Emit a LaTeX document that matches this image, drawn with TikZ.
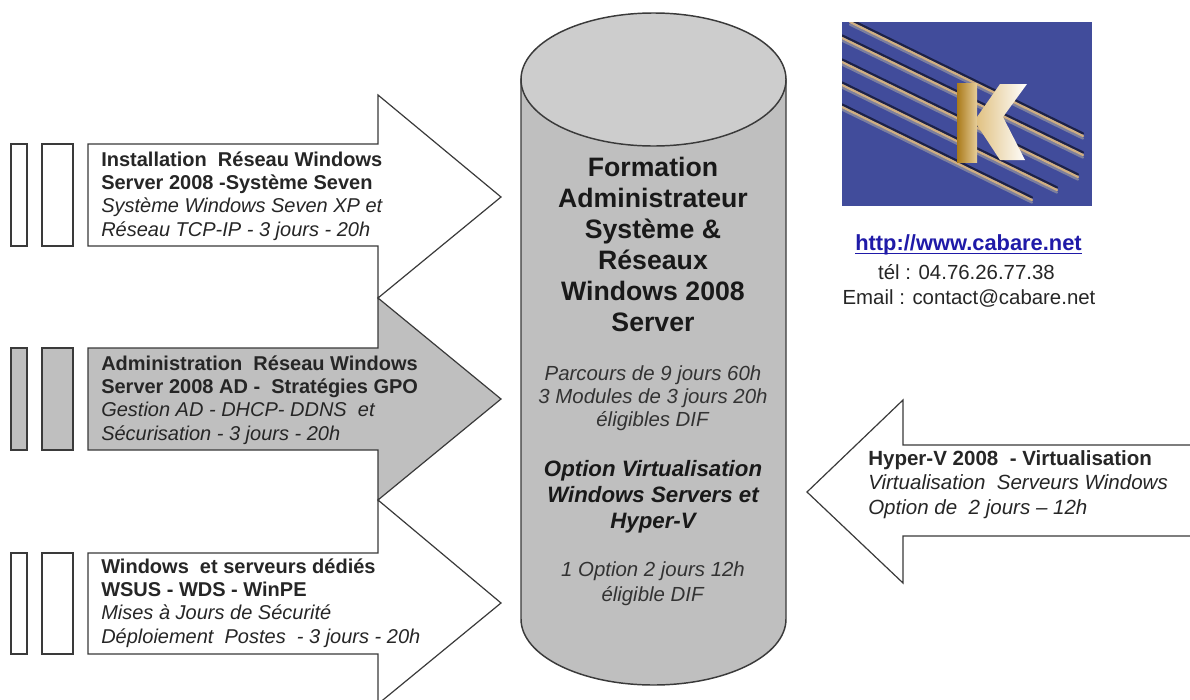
\documentclass[tikz,border=0pt]{standalone}
\usepackage{fontspec}
\setmainfont{Liberation Sans}
\definecolor{shade}{HTML}{BFBFBF}
\definecolor{capshade}{HTML}{CDCDCD}
\definecolor{ink}{HTML}{3A3A3A}
\definecolor{logo}{HTML}{414C9B}
\definecolor{stripe}{HTML}{CFAE82}
\definecolor{stripeglow}{HTML}{7C7F9E}
\definecolor{stripedark}{HTML}{1C2148}
\definecolor{linkblue}{HTML}{1F1AA8}
\definecolor{gold}{HTML}{C8901E}
\tikzset{
  x=0.75pt,y=-0.75pt,
  outline/.style={draw=ink,line width=0.9pt,line join=miter},
  grayfill/.style={outline,fill=shade},
  whitefill/.style={outline,fill=white},
  label/.style={inner sep=0pt,align=left,anchor=base west,font=\fontsize{15}{17.5}\selectfont,text=black!85},
  centre/.style={inner sep=0pt,align=center,anchor=base,font=\fontsize{15.3}{17}\selectfont,text=black!80},
  big/.style={inner sep=0pt,align=center,anchor=base,font=\fontsize{20}{23.2}\selectfont\bfseries,text=black!90},
  stripeline/.style={line width=1.7pt,line cap=round,stripe},
  stripeglowline/.style={line width=1.8pt,line cap=round,stripeglow},
  stripeshadow/.style={line width=1.8pt,line cap=round,stripedark}
}
\newcommand{\dl}[2]{\textbf{#1}\\\textbf{#2}}
\begin{document}
\begin{tikzpicture}
\useasboundingbox (0,0) rectangle (1190,700);
\fill[white] (0,0) rectangle (1190,700);
% left arrows
\draw[whitefill] (88,144)--(378,144)--(378,95)--(501,197)--(378,298)--(378,246)--(88,246)--cycle;
\draw[whitefill] (88,553)--(378,553)--(378,500)--(501,603)--(378,704)--(378,654)--(88,654)--cycle;
\draw[grayfill] (88,348)--(378,348)--(378,298)--(501,399)--(378,500)--(378,450)--(88,450)--cycle;
% bars
\draw[whitefill] (11,144) rectangle (27,246);
\draw[whitefill] (42,144) rectangle (73,246);
\draw[grayfill] (11,348) rectangle (27,450);
\draw[grayfill] (42,348) rectangle (73,450);
\draw[whitefill] (11,553) rectangle (27,654);
\draw[whitefill] (42,553) rectangle (73,654);
% texts
\node[label] (t1) at (101,236) {\dl{Installation\ \ Réseau Windows}{Server 2008 -Système Seven}\\\textit{Système Windows Seven XP et}\\\textit{Réseau TCP-IP - 3 jours - 20h}};
\node[label] (t2) at (101,440) {\dl{Administration\ \ Réseau Windows}{Server 2008 AD -\ \ Stratégies GPO}\\\textit{Gestion AD - DHCP- DDNS\ \ et}\\\textit{Sécurisation - 3 jours - 20h}};
\node[label] (t3) at (101,643) {\dl{Windows\ \ et serveurs dédiés}{WSUS - WDS - WinPE}\\\textit{Mises à Jours de Sécurité}\\\textit{Déploiement\ \ Postes\ \ - 3 jours - 20h}};
% cylinder
\draw[grayfill,line width=1.1pt] (521,79) -- (521,619) arc[start angle=180,end angle=0,x radius=132.5,y radius=66] -- (786,79) -- cycle;
\draw[outline,fill=capshade,line width=1.1pt] (653.5,79.5) ellipse[x radius=132.5,y radius=66.5];
\node[big] (c1) at (653,331) {Formation\\Administrateur\\Système \&\\Réseaux\\Windows 2008\\Server};
\node[centre] (c2) at (653,426) {\textit{Parcours de 9 jours 60h}\\\textit{3 Modules de 3 jours 20h}\\\textit{éligibles DIF}};
\node[centre,font=\fontsize{16.7}{19.5}\selectfont\bfseries\itshape,text=black!90] (c3) at (653,528) {Option Virtualisation\\Windows Servers et\\Hyper-V};
\node[centre,font=\fontsize{15.3}{18.5}\selectfont] (c4) at (653,601) {\textit{1 Option 2 jours 12h}\\\textit{éligible DIF}};
% right arrow
\draw[whitefill] (1195,445)--(903,445)--(903,400)--(807,492)--(903,583)--(903,536)--(1195,536)--cycle;
\node[label,font=\fontsize{15.4}{18.3}\selectfont] (t4) at (868,514) {\textbf{Hyper-V 2008\ \ - Virtualisation}\\\textit{Virtualisation\ \ Serveurs Windows}\\\textit{Option de\ \ 2 jours -- 12h}};
% logo
\fill[logo] (842,22) rectangle (1092,206);
\begin{scope}
\clip (842,22) rectangle (1092,206);
\foreach \a/\b/\c/\d in {850/22/1083/136,842/38/1083/155,842/62/1078/177,842/85/1057/190,842/107/1032/200}{
  \draw[stripeshadow] (\a,\b-2.5) -- (\c,\d-2.5);
  \draw[stripeglowline] (\a,\b+2.5) -- (\c,\d+2.5);
  \draw[stripeline] (\a,\b) -- (\c,\d);
}
\end{scope}
\shade[left color=gold!85!black,right color=gold!45!white] (957,83) -- (977,83) -- (977,162) -- (957,162) -- cycle;
\shade[left color=gold!55!white,right color=white] (977,117) -- (1000,84) -- (1027,84) -- (1003,117) -- (1025,160) -- (1000,160) -- (977,125) -- cycle;
% contact
\node[inner sep=0pt,anchor=base,font=\fontsize{16.4}{19}\selectfont\bfseries,text=linkblue] (u) at (968.5,250) {http://www.cabare.net};
\draw[linkblue,line width=0.9pt] ([yshift=-2.4pt]u.base west) -- ([yshift=-2.4pt]u.base east);
\node[inner sep=0pt,anchor=base,font=\fontsize{15.3}{18}\selectfont,text=black!85] (p) at (966.5,279) {tél : 04.76.26.77.38};
\node[inner sep=0pt,anchor=base,font=\fontsize{15.3}{18}\selectfont,text=black!85] (e) at (969,304) {Email : contact@cabare.net};
\end{tikzpicture}
\end{document}
